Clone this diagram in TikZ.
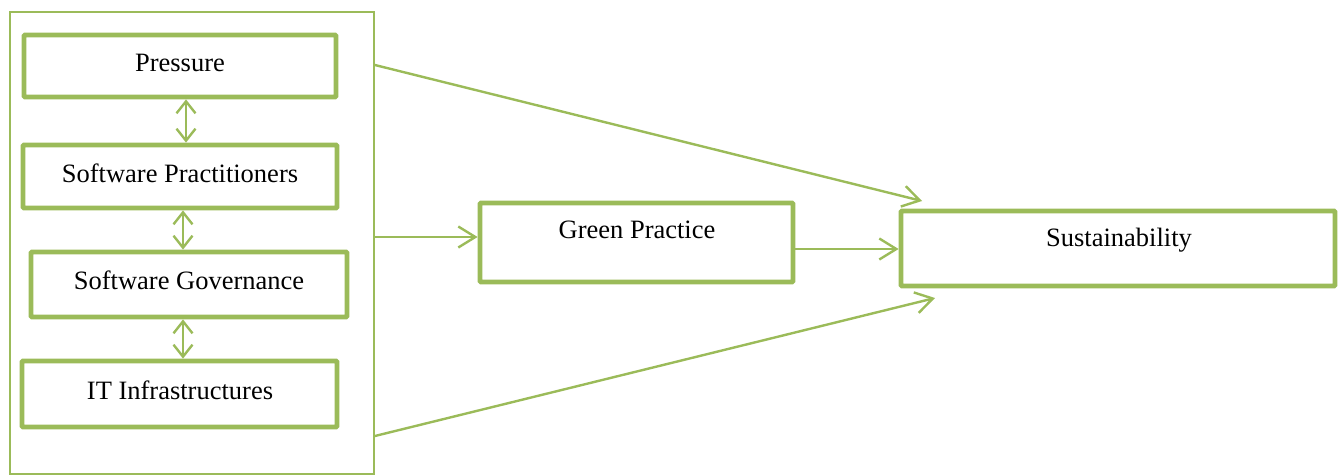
\documentclass[tikz,border=0pt]{standalone}
\usepackage{fontspec}
\setmainfont{Liberation Serif}
\usetikzlibrary{arrows.meta}
\definecolor{og}{HTML}{9BBB59}
\begin{document}
\begin{tikzpicture}[x=1pt,y=-1pt,
  box/.style={draw=og, line width=4.8pt, rectangle, inner sep=0pt, rounded corners=1pt},
  grpbox/.style={draw=og, line width=1.8pt, rectangle, inner sep=0pt},
  lbl/.style={font=\fontsize{26.5}{30}\selectfont, inner sep=0pt, anchor=base},
  conn/.style={draw=og, line width=2.4pt, -{Straight Barb[length=17pt,width=21pt]}},
  dbl/.style={draw=og, line width=2.4pt, {Straight Barb[length=12pt,width=19pt]}-{Straight Barb[length=12pt,width=19pt]}}
]
\useasboundingbox (0,0) rectangle (1338,475);
% outer group
\node[grpbox, minimum width=364pt, minimum height=462pt] (grp) at (192,243) {};
% boxes
\node[box, minimum width=312pt, minimum height=62pt] (p) at (180,66) {};
\node[box, minimum width=314pt, minimum height=63pt] (sp) at (180,176.5) {};
\node[box, minimum width=316pt, minimum height=65pt] (sg) at (189,284.5) {};
\node[box, minimum width=315pt, minimum height=66pt] (it) at (179.5,394) {};
\node[box, minimum width=313pt, minimum height=79pt] (gp) at (636.5,242.5) {};
\node[box, minimum width=434pt, minimum height=75pt] (su) at (1118,248.5) {};
% texts
\node[lbl] (pt) at (180,71) {Pressure};
\node[lbl] (spt) at (180,182) {Software Practitioners};
\node[lbl] (sgt) at (189,289) {Software Governance};
\node[lbl] (itt) at (180,399) {IT Infrastructures};
\node[lbl] (gpt) at (637,238) {Green Practice};
\node[lbl] (sut) at (1119,246) {Sustainability};
% double arrows
\draw[dbl] ([xshift=6pt]p.south) -- ([xshift=6pt]sp.north);
\draw[dbl] ([xshift=3pt]sp.south) -- ([xshift=-6pt]sg.north);
\draw[dbl] ([xshift=-6pt]sg.south) -- ([xshift=3.5pt]it.north);
% connectors
\coordinate (t1) at (922,201);
\coordinate (t2) at (935,298);
\draw[conn] ([yshift=6pt]grp.east) -- ([yshift=5.5pt]gp.west);
\draw[conn] ([yshift=-6.5pt]gp.east) -- ([yshift=-0.5pt]su.west);
\draw[conn] ([yshift=178pt]grp.east) -- (t1);
\draw[conn] ([yshift=-193pt]grp.east) -- (t2);
\end{tikzpicture}
\end{document}
